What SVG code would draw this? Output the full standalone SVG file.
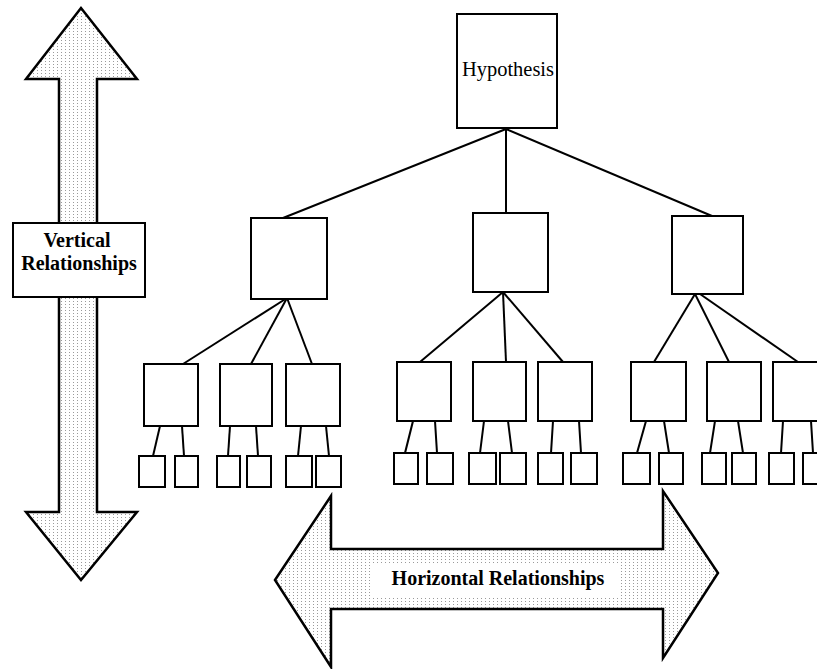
<svg xmlns="http://www.w3.org/2000/svg" width="817" height="669" viewBox="0 0 817 669">
<defs>
<pattern id="dots" x="0" y="0" width="4" height="3" patternUnits="userSpaceOnUse">
<rect width="4" height="3" fill="#ffffff"/>
<rect x="1" y="1" width="1" height="1" fill="#9a9a9a"/>
</pattern>
<style>
.box{fill:#ffffff;stroke:#000000;stroke-width:2}
.arrow{fill:url(#dots);stroke:#000000;stroke-width:2.5;stroke-linejoin:miter}
.conn line{stroke:#000000;stroke-width:2}
.lbl{font-family:"Liberation Serif","Times New Roman",serif;font-size:20px;fill:#000000;text-anchor:middle}
.b{font-weight:bold}
</style>
</defs>
<rect width="817" height="669" fill="#ffffff"/>

<g id="vertical-arrow">
<polygon class="arrow" points="81,8 26,79 59,79 59,512 26,512 81,580 137,512 97,512 97,79 137,79"/>
</g>
<g id="vertical-label">
<rect class="box" x="13" y="223" width="132" height="74"/>
<text class="lbl b" x="77" y="247">Vertical</text>
<text class="lbl b" x="79" y="270">Relationships</text>
</g>

<g id="horizontal-arrow">
<polygon class="arrow" points="275,580 331,496 331,549 663,549 663,491 718,573 663,658 663,609 331,609 331,667"/>
<rect x="373" y="564" width="245" height="32" fill="#ffffff"/>
<text class="lbl b" x="498" y="585">Horizontal Relationships</text>
</g>

<g class="conn" id="connectors">
<line x1="506" y1="129" x2="283" y2="218"/>
<line x1="506" y1="129" x2="506" y2="213"/>
<line x1="506" y1="129" x2="712" y2="216"/>

<line x1="287" y1="298" x2="183" y2="364"/>
<line x1="287" y1="298" x2="251" y2="364"/>
<line x1="287" y1="298" x2="312" y2="364"/>

<line x1="503" y1="292" x2="420" y2="362"/>
<line x1="503" y1="292" x2="506" y2="362"/>
<line x1="503" y1="292" x2="563" y2="362"/>

<line x1="695" y1="294" x2="654" y2="362"/>
<line x1="695" y1="294" x2="729" y2="362"/>
<line x1="700" y1="294" x2="798" y2="362"/>

<line x1="160" y1="426" x2="153" y2="456"/>
<line x1="182" y1="426" x2="184" y2="456"/>
<line x1="230" y1="426" x2="228" y2="456"/>
<line x1="256" y1="426" x2="258" y2="456"/>
<line x1="301" y1="426" x2="298" y2="456"/>
<line x1="326" y1="426" x2="329" y2="456"/>

<line x1="413" y1="421" x2="405" y2="453"/>
<line x1="435" y1="421" x2="437" y2="453"/>
<line x1="484" y1="421" x2="480" y2="453"/>
<line x1="508" y1="421" x2="512" y2="453"/>
<line x1="553" y1="421" x2="551" y2="453"/>
<line x1="579" y1="421" x2="581" y2="453"/>

<line x1="646" y1="421" x2="637" y2="453"/>
<line x1="664" y1="421" x2="669" y2="453"/>
<line x1="715" y1="421" x2="710" y2="453"/>
<line x1="738" y1="421" x2="743" y2="453"/>
<line x1="783" y1="421" x2="781" y2="453"/>
<line x1="811" y1="421" x2="813" y2="453"/>
</g>

<g id="hypothesis">
<rect class="box" x="457" y="14" width="100" height="114"/>
<text class="lbl" x="508" y="76" textLength="92" lengthAdjust="spacingAndGlyphs">Hypothesis</text>
</g>

<g id="n-left"><rect class="box" x="251" y="218" width="76" height="81"/></g>
<g id="n-center"><rect class="box" x="473" y="213" width="75" height="79"/></g>
<g id="n-right"><rect class="box" x="672" y="216" width="71" height="78"/></g>

<g id="n-a"><rect class="box" x="144" y="364" width="54" height="62"/></g>
<g id="n-b"><rect class="box" x="220" y="364" width="52" height="62"/></g>
<g id="n-c"><rect class="box" x="286" y="364" width="54" height="62"/></g>
<g id="n-d"><rect class="box" x="397" y="362" width="54" height="59"/></g>
<g id="n-e"><rect class="box" x="473" y="362" width="53" height="59"/></g>
<g id="n-f"><rect class="box" x="538" y="362" width="54" height="59"/></g>
<g id="n-g"><rect class="box" x="631" y="362" width="55" height="59"/></g>
<g id="n-h"><rect class="box" x="707" y="362" width="54" height="59"/></g>
<g id="n-i"><rect class="box" x="773" y="362" width="54" height="59"/></g>

<g id="n-a1"><rect class="box" x="139" y="456" width="26" height="31"/></g>
<g id="n-a2"><rect class="box" x="175" y="456" width="23" height="31"/></g>
<g id="n-b1"><rect class="box" x="217" y="456" width="23" height="31"/></g>
<g id="n-b2"><rect class="box" x="247" y="456" width="24" height="31"/></g>
<g id="n-c1"><rect class="box" x="286" y="456" width="26" height="31"/></g>
<g id="n-c2"><rect class="box" x="316" y="456" width="25" height="31"/></g>
<g id="n-d1"><rect class="box" x="394" y="453" width="24" height="31"/></g>
<g id="n-d2"><rect class="box" x="427" y="453" width="26" height="31"/></g>
<g id="n-e1"><rect class="box" x="469" y="453" width="27" height="31"/></g>
<g id="n-e2"><rect class="box" x="500" y="453" width="26" height="31"/></g>
<g id="n-f1"><rect class="box" x="538" y="453" width="25" height="31"/></g>
<g id="n-f2"><rect class="box" x="571" y="453" width="26" height="31"/></g>
<g id="n-g1"><rect class="box" x="623" y="453" width="27" height="31"/></g>
<g id="n-g2"><rect class="box" x="659" y="453" width="24" height="31"/></g>
<g id="n-h1"><rect class="box" x="702" y="453" width="24" height="31"/></g>
<g id="n-h2"><rect class="box" x="732" y="453" width="24" height="31"/></g>
<g id="n-i1"><rect class="box" x="769" y="453" width="25" height="31"/></g>
<g id="n-i2"><rect class="box" x="803" y="453" width="25" height="31"/></g>
</svg>
